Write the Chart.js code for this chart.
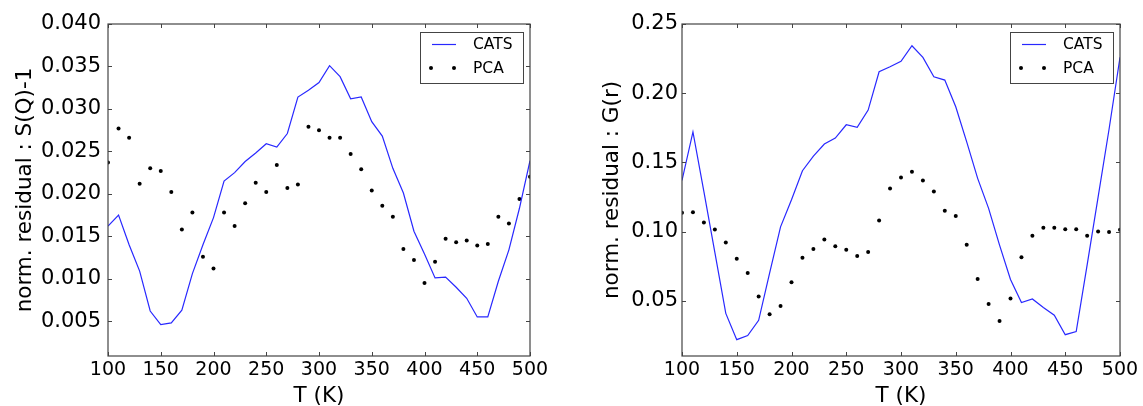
<!DOCTYPE html>
<html>
<head>
<meta charset="utf-8">
<script src="https://cdn.jsdelivr.net/npm/chart.js@4.4.1/dist/chart.umd.min.js"></script>
<style>
    html, body { margin: 0; padding: 0; background: #fff; }
    body { width: 1143px; height: 406px; position: relative; overflow: hidden; }
    canvas { position: absolute; top: 0; }
    #chart-sq { left: 0; }
    #chart-gr { left: 572px; }
</style>
</head>
<body>
<canvas id="chart-sq" width="560" height="406"></canvas>
<canvas id="chart-gr" width="571" height="406"></canvas>
<script>
// temperatures (K)
const temps = [100, 110, 120, 130, 140, 150, 160, 170, 180, 190,
               200, 210, 220, 230, 240, 250, 260, 270, 280, 290,
               300, 310, 320, 330, 340, 350, 360, 370, 380, 390,
               400, 410, 420, 430, 440, 450, 460, 470, 480, 490, 500];

// normalised residual on S(Q)-1
const sqCats = [0.0162, 0.0175, 0.0140, 0.0109, 0.0062, 0.0046, 0.0048, 0.0063, 0.0106, 0.0140,
                0.0172, 0.0215, 0.0225, 0.0238, 0.0248, 0.0259, 0.0255, 0.0271, 0.0314, 0.0322,
                0.0331, 0.0351, 0.0338, 0.0312, 0.0314, 0.0285, 0.0268, 0.0230, 0.0201, 0.0156,
                0.0129, 0.0101, 0.0102, 0.0090, 0.0077, 0.0055, 0.0055, 0.0097, 0.0134, 0.0183, 0.0239];
const sqPca = [0.0237, 0.0277, 0.0266, 0.0212, 0.0230, 0.0227, 0.0202, 0.0158, 0.0178, 0.0126,
               0.0112, 0.0178, 0.0162, 0.0189, 0.0213, 0.0202, 0.0234, 0.0207, 0.0211, 0.0279,
               0.0275, 0.0266, 0.0266, 0.0247, 0.0229, 0.0204, 0.0186, 0.0173, 0.0135, 0.0122,
               0.0095, 0.0120, 0.0147, 0.0143, 0.0145, 0.0139, 0.0141, 0.0173, 0.0165, 0.0194, 0.0220];

// normalised residual on G(r)
const grCats = [0.137, 0.172, 0.129, 0.085, 0.041, 0.022, 0.025, 0.036, 0.070, 0.1035,
                0.123, 0.144, 0.1546, 0.1633, 0.1676, 0.1772, 0.1753, 0.1878, 0.2155, 0.2191,
                0.223, 0.2343, 0.2259, 0.2119, 0.2095, 0.1902, 0.1649, 0.1385, 0.1168, 0.0903,
                0.0655, 0.0488, 0.0514, 0.0452, 0.0397, 0.0256, 0.0278, 0.076, 0.125, 0.174, 0.226];
const grPca = [0.1136, 0.1141, 0.1067, 0.1016, 0.0922, 0.0804, 0.0702, 0.0532, 0.0404, 0.0464,
               0.0635, 0.0811, 0.0874, 0.0944, 0.0895, 0.0869, 0.0825, 0.0854, 0.1081, 0.1312,
               0.1392, 0.1433, 0.1370, 0.1291, 0.1151, 0.1114, 0.0905, 0.0659, 0.0478, 0.0355,
               0.0517, 0.0816, 0.0970, 0.1028, 0.1028, 0.1018, 0.1018, 0.0970, 0.1001, 0.0997, 0.1013];

// tick labels
const tempTicks = [100, 150, 200, 250, 300, 350, 400, 450, 500];
const sqTicks = [0.005, 0.010, 0.015, 0.020, 0.025, 0.030, 0.035, 0.040];
const grTicks = [0.05, 0.10, 0.15, 0.20, 0.25];

const FONT = '"DejaVu Sans", "Liberation Sans", sans-serif';
const BLUE = 'rgb(40, 40, 255)';
const FRAME = '#444';

function points(ys) {
    return temps.map((t, i) => ({ x: t, y: ys[i] }));
}

// box around the axes with inward ticks on all four sides
const framePlugin = {
    id: 'frame',
    afterDatasetsDraw(chart) {
        const { ctx, chartArea: a, scales } = chart;
        const len = 4;
        ctx.save();
        ctx.strokeStyle = FRAME;
        ctx.lineWidth = 1;
        ctx.beginPath();
        scales.x.ticks.forEach(t => {
            const px = Math.round(scales.x.getPixelForValue(t.value)) + 0.5;
            ctx.moveTo(px, a.bottom); ctx.lineTo(px, a.bottom - len);
            ctx.moveTo(px, a.top); ctx.lineTo(px, a.top + len);
        });
        scales.y.ticks.forEach(t => {
            const py = Math.round(scales.y.getPixelForValue(t.value)) + 0.5;
            ctx.moveTo(a.left, py); ctx.lineTo(a.left + len, py);
            ctx.moveTo(a.right, py); ctx.lineTo(a.right - len, py);
        });
        ctx.stroke();
        ctx.lineWidth = 1.2;
        ctx.strokeRect(a.left, a.top, a.right - a.left, a.bottom - a.top);
        ctx.restore();
    }
};

// legend box in the upper right corner of the axes
const boxLegendPlugin = {
    id: 'boxLegend',
    afterDraw(chart) {
        const { ctx, chartArea: a } = chart;
        const [cats, pca] = chart.data.datasets;
        const w = 103, h = 51;
        const x0 = a.right - 7 - w, y0 = a.top + 8;
        ctx.save();
        ctx.fillStyle = '#fff';
        ctx.fillRect(x0, y0, w, h);
        ctx.strokeStyle = FRAME;
        ctx.lineWidth = 1;
        ctx.strokeRect(x0 + 0.5, y0 + 0.5, w, h);

        ctx.strokeStyle = cats.borderColor;
        ctx.lineWidth = cats.borderWidth;
        ctx.beginPath();
        ctx.moveTo(x0 + 12, y0 + 12.5);
        ctx.lineTo(x0 + 36, y0 + 12.5);
        ctx.stroke();

        ctx.fillStyle = pca.backgroundColor;
        [x0 + 11, x0 + 34].forEach(cx => {
            ctx.beginPath();
            ctx.arc(cx, y0 + 36, pca.pointRadius, 0, Math.PI * 2);
            ctx.fill();
        });

        ctx.fillStyle = '#000';
        ctx.font = '15.5px ' + FONT;
        ctx.textBaseline = 'middle';
        ctx.textAlign = 'left';
        ctx.fillText(cats.label, x0 + 53, y0 + 13);
        ctx.fillText(pca.label, x0 + 53, y0 + 37);
        ctx.restore();
    }
};

function makeChart(id, opts) {
    const xTickFont = { family: FONT, size: 19 };
    const yTickFont = { family: FONT, size: 21 };
    const titleFont = { family: FONT, size: 21.5 };
    return new Chart(document.getElementById(id), {
        type: 'scatter',
        data: {
            datasets: [
                {
                    label: 'CATS',
                    data: points(opts.cats),
                    showLine: true,
                    borderColor: BLUE,
                    borderWidth: 1.2,
                    pointRadius: 0,
                    tension: 0
                },
                {
                    label: 'PCA',
                    data: points(opts.pca),
                    showLine: false,
                    backgroundColor: '#000',
                    borderWidth: 0,
                    pointRadius: 2
                }
            ]
        },
        options: {
            responsive: false,
            animation: false,
            events: [],
            layout: { padding: { top: 24, right: opts.padRight, left: 0, bottom: 0 } },
            plugins: {
                legend: { display: false },
                tooltip: { enabled: false }
            },
            scales: {
                x: {
                    type: 'linear',
                    min: 100,
                    max: 500,
                    afterBuildTicks: s => { s.ticks = tempTicks.map(v => ({ value: v })); },
                    afterFit: s => { s.height = 50; },
                    grid: { display: false, drawTicks: false },
                    border: { display: false },
                    ticks: { color: '#000', font: xTickFont, padding: 3, maxRotation: 0 },
                    title: {
                        display: true,
                        text: 'T (K)',
                        color: '#000',
                        font: titleFont,
                        padding: { top: 0, bottom: -3 }
                    }
                },
                y: {
                    type: 'linear',
                    min: opts.yMin,
                    max: opts.yMax,
                    afterBuildTicks: s => { s.ticks = opts.yTicks.map(v => ({ value: v })); },
                    afterFit: s => { s.width = opts.axisWidth; },
                    grid: { display: false, drawTicks: false },
                    border: { display: false },
                    ticks: {
                        color: '#000',
                        font: yTickFont,
                        padding: opts.labelGap,
                        callback: v => v.toFixed(opts.digits)
                    },
                    title: {
                        display: true,
                        text: opts.yTitle,
                        color: '#000',
                        font: titleFont,
                        padding: { top: opts.titlePad, bottom: 0 }
                    }
                }
            }
        },
        plugins: [framePlugin, boxLegendPlugin]
    });
}

makeChart('chart-sq', {
    cats: sqCats, pca: sqPca,
    yMin: 0.0009, yMax: 0.040, yTicks: sqTicks, digits: 3,
    yTitle: 'norm. residual : S(Q)-1',
    axisWidth: 108, padRight: 30, labelGap: 7, titlePad: 12.5
});

makeChart('chart-gr', {
    cats: grCats, pca: grPca,
    yMin: 0.0102, yMax: 0.25, yTicks: grTicks, digits: 2,
    yTitle: 'norm. residual : G(r)',
    axisWidth: 110, padRight: 23, labelGap: 4, titlePad: 27.5
});
</script>
</body>
</html>
